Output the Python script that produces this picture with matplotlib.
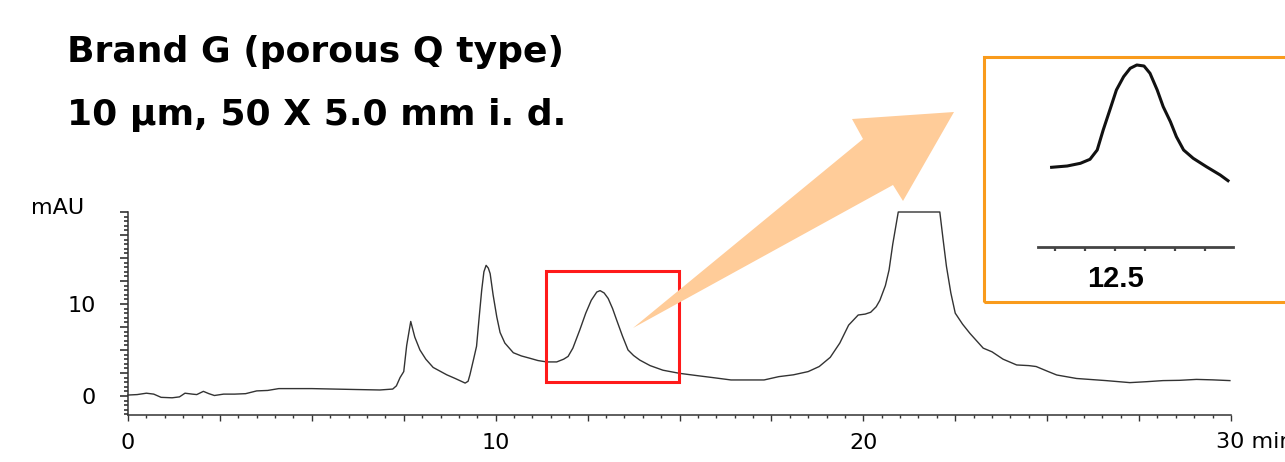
import numpy as np
import matplotlib
matplotlib.use("Agg")
import matplotlib.pyplot as plt
from matplotlib.patches import Rectangle, Polygon
from matplotlib.ticker import MultipleLocator

plt.rcParams['font.family'] = ['DejaVu Sans']

# chromatogram: time (min) vs absorbance (mAU)
time_min = [0.0, 0.25, 0.5, 0.7, 0.9, 1.2, 1.4, 1.55, 1.75, 1.87, 2.05, 2.2, 2.35,
            2.6, 2.9, 3.2, 3.5, 3.8, 4.1, 5.0, 5.6, 6.2, 6.85, 7.2, 7.3, 7.4, 7.5,
            7.58, 7.69, 7.8, 7.94, 8.1, 8.3, 8.67, 8.9, 9.17, 9.25, 9.3, 9.4, 9.48,
            9.55, 9.62, 9.68, 9.74, 9.8, 9.85, 9.93, 10.03, 10.12, 10.25, 10.48,
            10.7, 10.93, 11.15, 11.39, 11.66, 11.85, 11.97, 12.1, 12.29, 12.45, 12.6,
            12.75, 12.84, 12.95, 13.06, 13.18, 13.29, 13.45, 13.6, 13.75, 13.92,
            14.2, 14.55, 15.0, 15.5, 15.9, 16.4, 17.3, 17.7, 18.1, 18.5, 18.8, 19.1,
            19.36, 19.6, 19.86, 20.05, 20.2, 20.35, 20.45, 20.6, 20.7, 20.8, 20.95,
            22.08, 22.17, 22.26, 22.38, 22.5, 22.7, 22.9, 23.26, 23.5, 23.8, 24.17,
            24.5, 24.7, 25.0, 25.26, 25.8, 26.6, 27.25, 27.7, 28.15, 28.6, 29.06,
            29.5, 29.97]
signal_mau = [0.1, 0.15, 0.3, 0.2, -0.15, -0.2, -0.1, 0.3, 0.2, 0.15, 0.5, 0.25, 0.05,
              0.2, 0.2, 0.25, 0.55, 0.6, 0.8, 0.8, 0.75, 0.7, 0.65, 0.75, 1.1, 2.0, 2.65,
              5.5, 8.1, 6.4, 5.0, 4.0, 3.1, 2.3, 1.9, 1.4, 1.6, 2.3, 4.0, 5.4,
              8.5, 11.5, 13.5, 14.2, 13.9, 13.3, 11.0, 8.6, 6.9, 5.75, 4.7,
              4.35, 4.1, 3.85, 3.7, 3.7, 4.0, 4.3, 5.2, 7.2, 9.0, 10.4,
              11.3, 11.45, 11.2, 10.6, 9.5, 8.26, 6.5, 5.0, 4.4, 3.9,
              3.3, 2.8, 2.46, 2.2, 2.0, 1.74, 1.74, 2.1, 2.3, 2.65, 3.2, 4.2,
              5.75, 7.7, 8.8, 8.9, 9.1, 9.7, 10.4, 12.0, 13.7, 16.5, 20.0,
              20.0, 17.0, 14.1, 11.2, 9.0, 7.8, 6.8, 5.2, 4.8, 4.0, 3.37,
              3.3, 3.2, 2.7, 2.28, 1.9, 1.67, 1.45, 1.55, 1.67, 1.7, 1.8,
              1.75, 1.67]

# enlarged peak shown in the inset (arbitrary height units)
inset_time = [11.97, 12.10, 12.21, 12.29, 12.35, 12.40, 12.46, 12.51, 12.57, 12.625,
              12.68, 12.74, 12.79, 12.85, 12.90, 12.96, 13.01, 13.07, 13.15, 13.26,
              13.375, 13.44]
inset_signal = [7.97, 8.1, 8.37, 8.77, 9.7, 11.7, 13.87, 15.7, 17.03, 17.87,
                18.2, 18.1, 17.37, 15.7, 14.03, 12.53, 11.03, 9.7, 8.87, 8.03,
                7.2, 6.63]

x_ticks = [0, 10, 20]
x_labels = ['0', '10', '20']
y_ticks = [0, 10]
y_labels = ['0', '10']
inset_ticks = [12.0, 12.25, 12.5, 12.75, 13.0, 13.25]
inset_labels = ['', '', '12.5', '', '', '']

W, H = 1285, 462
fig = plt.figure(figsize=(W / 100, H / 100), dpi=100)

def fx(x):
    return x / W

def fy(y):
    return 1 - y / H

ink = '#333333'

# main chromatogram
ax = fig.add_axes([fx(128), fy(415), 1103 / W, 203 / H])
ax.plot(time_min, signal_mau, color=ink, lw=1.0, clip_on=False, zorder=3)
ax.set_xlim(0, 30)
ax.set_ylim(-2.07, 20)
for s in ['top', 'right']:
    ax.spines[s].set_visible(False)
for s in ['left', 'bottom']:
    ax.spines[s].set_color(ink)
    ax.spines[s].set_linewidth(1.1)

ax.xaxis.set_major_locator(MultipleLocator(2.5))
ax.xaxis.set_minor_locator(MultipleLocator(0.5))
ax.yaxis.set_major_locator(MultipleLocator(2.5))
ax.yaxis.set_minor_locator(MultipleLocator(0.5))
ax.xaxis.set_major_formatter(plt.FuncFormatter(
    lambda v, p: x_labels[x_ticks.index(round(v))] if round(v, 3) in x_ticks else ''))
ax.yaxis.set_major_formatter(plt.FuncFormatter(
    lambda v, p: y_labels[y_ticks.index(round(v))] if round(v, 3) in y_ticks else ''))
ax.tick_params(axis='x', which='major', length=4, width=1, color=ink, pad=9, labelsize=16)
ax.tick_params(axis='x', which='minor', length=2.5, width=1, color=ink)
ax.tick_params(axis='y', which='major', length=6, width=1.2, color=ink, pad=17, labelsize=16)
ax.tick_params(axis='y', which='minor', length=3.2, width=1.2, color=ink)

ax.annotate('30 min', xy=(30, 0), xycoords=('data', 'axes fraction'),
            xytext=(-15, -17), textcoords='offset pixels', ha='left', va='top',
            fontsize=16, annotation_clip=False)
fig.text(fx(31), fy(208), 'mAU', fontsize=16, ha='left', va='center')

# red box around the peak of interest
ax.add_patch(Rectangle((11.37, 1.49), 3.62, 12.11, fill=False, ec='#ff1a1a',
                       lw=2.2, clip_on=False, zorder=6))

# pointer arrow to the inset
arrow_px = [(633, 328), (863, 139), (852, 119), (954, 112), (903, 201), (893, 185)]
fig.patches.append(Polygon([(fx(a), fy(b)) for a, b in arrow_px], closed=True,
                           transform=fig.transFigure, fc='#ffcc99', ec='none', zorder=1))

# inset frame
fig.patches.append(Rectangle((fx(984), fy(302)), (1300 - 984) / W, (302 - 57) / H,
                             transform=fig.transFigure, fill=False, ec='#f99b1c', lw=2.2))

# inset enlarged peak
ax2 = fig.add_axes([fx(1030), fy(247), 210 / W, 192 / H])
ax2.patch.set_visible(False)
ax2.plot(inset_time, inset_signal, color='#111111', lw=2.2)
ax2.set_xlim(11.79, 13.54)
ax2.set_ylim(0, 19.2)
for s in ['top', 'right', 'left']:
    ax2.spines[s].set_visible(False)
ax2.spines['bottom'].set_bounds(11.86, 13.48)
ax2.spines['bottom'].set_color('#444444')
ax2.spines['bottom'].set_linewidth(2)
ax2.set_yticks([])
ax2.set_xticks(inset_ticks)
ax2.set_xticklabels(inset_labels, fontsize=21, fontweight='bold',
                    family=['Liberation Sans', 'DejaVu Sans'])
ax2.tick_params(axis='x', length=3, width=1.6, color='#444444', pad=10)

# title
fig.text(fx(67), fy(62), 'Brand G (porous Q type)', fontsize=26, fontweight='bold',
         ha='left', va='baseline')
fig.text(fx(67), fy(125), '10 \u03bcm, 50 X 5.0 mm i. d.', fontsize=26, fontweight='bold',
         ha='left', va='baseline')

fig.savefig('out.png', dpi=100)
